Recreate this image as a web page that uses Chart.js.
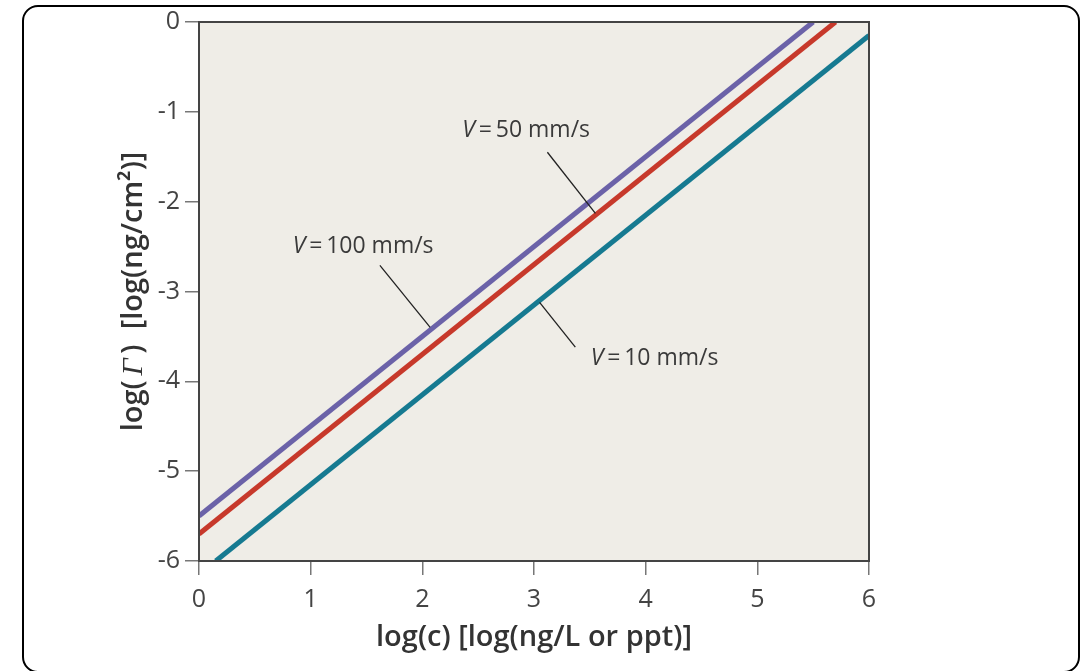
<!DOCTYPE html>
<html>
<head>
<meta charset="utf-8">
<script src="https://cdn.jsdelivr.net/npm/chart.js@4/dist/chart.umd.min.js"></script>
<style>
html,body{margin:0;padding:0;background:#fff;}
#wrap{position:relative;width:1086px;height:671px;overflow:hidden;}
#frame{position:absolute;left:22px;top:5px;width:1054px;height:664px;border:2.5px solid #000;border-radius:16px;}
canvas{position:absolute;left:0;top:0;}
</style>
</head>
<body>
<div id="wrap">
<div id="frame"></div>
<canvas id="c" width="1086" height="671"></canvas>
</div>
<script>
// ---- data ----
const xTicks = [0, 1, 2, 3, 4, 5, 6];
const yTicks = [-6, -5, -4, -3, -2, -1, 0];
const seriesNames = ["V = 100 mm/s", "V = 50 mm/s", "V = 10 mm/s"];
const v100X = [0, 5.5];
const v100Y = [-5.5, 0];
const v50X = [0, 5.7];
const v50Y = [-5.7, 0];
const v10X = [0.15, 6];
const v10Y = [-6, -0.15];
const xTitle = "log(c) [log(ng/L or ppt)]";
const yTitleParts = ["log(\u2009", "\u0393", "\u2009)  [log(ng/cm\u00B2)]"];

// ---- annotation placement (data coordinates) ----
const annos = [
  {name: seriesNames[0], tx: 1.47, ty: -2.50, l: [1.62, -2.71, 2.07, -3.40]},
  {name: seriesNames[1], tx: 2.93, ty: -1.21, l: [3.12, -1.45, 3.55, -2.13]},
  {name: seriesNames[2], tx: 4.08, ty: -3.75, l: [3.05, -3.12, 3.37, -3.62]}
];

const FONT = "'Open Sans', 'Noto Sans', sans-serif";
const pts = (xs, ys) => xs.map((x, i) => ({x: x, y: ys[i]}));

const framePlugin = {
  id: 'framePlugin',
  beforeDatasetsDraw(chart) {
    const a = chart.chartArea, ctx = chart.ctx;
    ctx.save();
    ctx.fillStyle = '#efede7';
    ctx.fillRect(a.left, a.top, a.right - a.left, a.bottom - a.top);
    ctx.restore();
  },
  afterDatasetsDraw(chart) {
    const a = chart.chartArea, ctx = chart.ctx;
    const xs = chart.scales.x, ys = chart.scales.y;
    ctx.save();
    ctx.strokeStyle = '#444';
    ctx.lineWidth = 2;
    ctx.strokeRect(a.left, a.top, a.right - a.left, a.bottom - a.top);
    // annotations
    ctx.strokeStyle = '#222';
    ctx.lineWidth = 1.3;
    ctx.fillStyle = '#3a3a3a';
    ctx.textBaseline = 'middle';
    annos.forEach(an => {
      ctx.beginPath();
      ctx.moveTo(xs.getPixelForValue(an.l[0]), ys.getPixelForValue(an.l[1]));
      ctx.lineTo(xs.getPixelForValue(an.l[2]), ys.getPixelForValue(an.l[3]));
      ctx.stroke();
      const first = an.name.charAt(0), rest = an.name.slice(1).replace(/ = /, '\u2009=\u2009');
      const fi = 'italic 23px ' + FONT, fn = '23px ' + FONT;
      ctx.font = fi; const w1 = ctx.measureText(first).width;
      ctx.font = fn; const w2 = ctx.measureText(rest).width;
      let x0 = xs.getPixelForValue(an.tx) - (w1 + w2) / 2;
      const y0 = ys.getPixelForValue(an.ty);
      ctx.textAlign = 'left';
      ctx.font = fi; ctx.fillText(first, x0, y0);
      ctx.font = fn; ctx.fillText(rest, x0 + w1, y0);
    });
    // x-axis title
    ctx.fillStyle = '#333';
    ctx.textAlign = 'center';
    ctx.textBaseline = 'alphabetic';
    ctx.font = '600 29px ' + FONT;
    ctx.fillText(xTitle, (a.left + a.right) / 2, 646);
    // y-axis title with italic Gamma
    const fonts = ['600 29px ' + FONT, "italic 30px 'Liberation Serif', serif", '600 29px ' + FONT];
    let total = 0; const ws = [];
    yTitleParts.forEach((p, i) => { ctx.font = fonts[i]; ws[i] = ctx.measureText(p).width; total += ws[i]; });
    ctx.translate(142, (a.top + a.bottom) / 2);
    ctx.rotate(-Math.PI / 2);
    ctx.textAlign = 'left';
    let cx = -total / 2;
    yTitleParts.forEach((p, i) => { ctx.font = fonts[i]; ctx.fillText(p, cx, 0); cx += ws[i]; });
    ctx.restore();
  }
};

new Chart(document.getElementById('c'), {
  type: 'scatter',
  data: {
    datasets: [
      {label: seriesNames[0], data: pts(v100X, v100Y), borderColor: '#6b62a8', backgroundColor: '#6b62a8'},
      {label: seriesNames[1], data: pts(v50X, v50Y), borderColor: '#c7392b', backgroundColor: '#c7392b'},
      {label: seriesNames[2], data: pts(v10X, v10Y), borderColor: '#167a91', backgroundColor: '#167a91'}
    ].map(d => Object.assign(d, {showLine: true, pointRadius: 0, borderWidth: 5, borderCapStyle: 'butt'}))
  },
  options: {
    responsive: false,
    animation: false,
    devicePixelRatio: 1,
    layout: {padding: {left: 0, top: 22, right: 217, bottom: 0}},
    plugins: {legend: {display: false}, tooltip: {enabled: false}},
    scales: {
      x: {
        type: 'linear', min: 0, max: 6,
        afterBuildTicks: s => { s.ticks = xTicks.map(v => ({value: v})); },
        afterFit: s => { s.height = 110; },
        grid: {display: true, drawOnChartArea: false, drawTicks: true, tickLength: 14, color: '#777', lineWidth: 1.5},
        border: {display: false},
        ticks: {color: '#444', font: {family: FONT, size: 25}, padding: 10, maxRotation: 0}
      },
      y: {
        type: 'linear', min: -6, max: 0,
        afterBuildTicks: s => { s.ticks = yTicks.map(v => ({value: v})); },
        afterFit: s => { s.width = 199; },
        grid: {display: true, drawOnChartArea: false, drawTicks: true, tickLength: 14, color: '#777', lineWidth: 1.5},
        border: {display: false},
        ticks: {color: '#444', font: {family: FONT, size: 25}, padding: 5}
      }
    }
  },
  plugins: [framePlugin]
});
</script>
</body>
</html>
